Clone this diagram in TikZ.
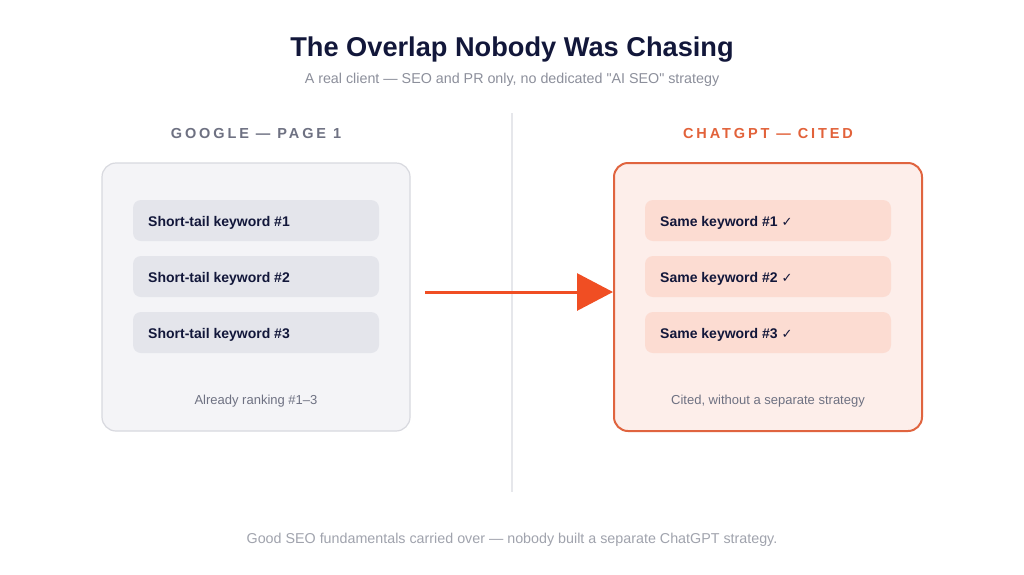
\documentclass[tikz,border=0pt]{standalone}
\usepackage{fontspec}
\setmainfont{Liberation Sans}[Ligatures=TeXOff]
\newfontfamily\dejavu{DejaVu Sans}
\usetikzlibrary{arrows.meta}
\definecolor{navy}{HTML}{12173A}
\definecolor{subgray}{HTML}{8C8F9B}
\definecolor{headgray}{HTML}{6E7182}
\definecolor{headorange}{HTML}{E2623A}
\definecolor{lboxfill}{HTML}{F4F4F7}
\definecolor{lboxdraw}{HTML}{D8D9DF}
\definecolor{lpill}{HTML}{E4E5EB}
\definecolor{rboxfill}{HTML}{FDEEEA}
\definecolor{rboxdraw}{HTML}{E0643F}
\definecolor{rpill}{HTML}{FCDCD2}
\definecolor{arrowred}{HTML}{F04E23}
\definecolor{divider}{HTML}{E6E7EB}
\definecolor{footgray}{HTML}{A0A3AD}
\begin{document}
\begin{tikzpicture}[x=1pt,y=-1pt,
  panel/.style={rounded corners=14pt, minimum width=308pt, minimum height=268pt, inner sep=0pt},
  pill/.style={rounded corners=8pt, minimum width=246pt, minimum height=41pt, inner sep=0pt},
  pilltext/.style={anchor=west, text=navy, font=\fontsize{14}{16}\selectfont\bfseries, inner sep=0pt},
  head/.style={font=\fontsize{14.5}{16}\selectfont\bfseries\addfontfeatures{LetterSpace=20}, inner sep=0pt},
  note/.style={text=headgray, font=\fontsize{13}{15}\selectfont, inner sep=0pt}
]
\useasboundingbox[fill=white] (0,0) rectangle (1024,574);
\node[text=navy, font=\fontsize{27.2}{30}\selectfont\bfseries] (title) at (512,50) {The Overlap Nobody Was Chasing};
\node[text=subgray, font=\fontsize{14.3}{16}\selectfont] (sub) at (512,80) {A real client — SEO and PR only, no dedicated "AI SEO" strategy};
\coordinate (dtop) at (512,113);
\coordinate (dbot) at (512,492);
\draw[divider, line width=1.2pt] (dtop) -- (dbot);

% left
\node[head, text=headgray] (lhead) at (256,134) {GOOGLE — PAGE 1};
\node[panel, fill=lboxfill, draw=lboxdraw, line width=1.2pt] (lbox) at (256,297) {};
\foreach \i/\y in {1/220.5,2/276.5,3/332.5}{
  \node[pill, fill=lpill] (lp\i) at (256,\y) {};
  \node[pilltext] (lt\i) at (148,\y+2) {Short-tail keyword \#\i};
}
\node[note] (lnote) at (256,401.5) {Already ranking \#1–3};

% right
\node[head, text=headorange] (rhead) at (768,134) {CHATGPT — CITED};
\node[panel, fill=rboxfill, draw=rboxdraw, line width=2pt] (rbox) at (768,297) {};
\foreach \i/\y in {1/220.5,2/276.5,3/332.5}{
  \node[pill, fill=rpill] (rp\i) at (768,\y) {};
  \node[pilltext] (rt\i) at (660,\y+2) {Same keyword \#\i\ {\dejavu\fontsize{13}{14}\selectfont ✓}};
}
\node[note] (rnote) at (768,401.5) {Cited, without a separate strategy};

% arrow
\coordinate (astart) at (425,292);
\draw[arrowred, line width=3pt, -{Triangle[length=36pt,width=37pt]}] (astart) -- (rbox.west |- astart);

\node[text=footgray, font=\fontsize{14.3}{16}\selectfont] (foot) at (512,539.5) {Good SEO fundamentals carried over — nobody built a separate ChatGPT strategy.};
\end{tikzpicture}
\end{document}
